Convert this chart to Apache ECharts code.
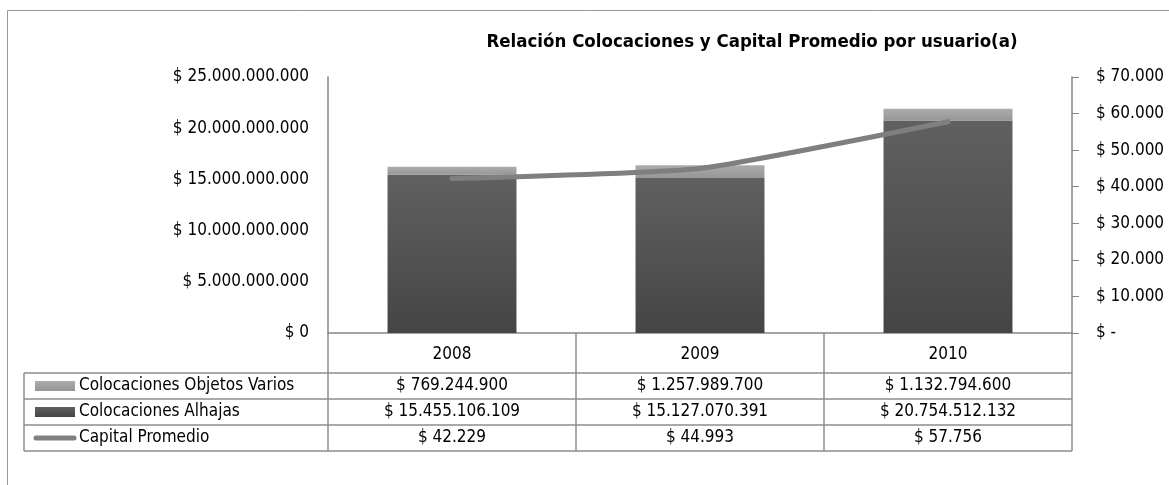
<!DOCTYPE html>
<html><head><meta charset="utf-8">
<script src="https://cdn.jsdelivr.net/npm/echarts@6/dist/echarts.min.js"></script>
<style>html,body{margin:0;padding:0;background:#fff}#c{width:1169px;height:485px}</style>
</head><body><div id="c"></div>
<script>
const years = ['2008', '2009', '2010'];
const objetosVarios = [769244900, 1257989700, 1132794600];
const alhajas = [15455106109, 15127070391, 20754512132];
const capitalPromedio = [42229, 44993, 57756];
const seriesNames = ['Colocaciones Objetos Varios', 'Colocaciones Alhajas', 'Capital Promedio'];
const leftTicks = [0, 5000000000, 10000000000, 15000000000, 20000000000, 25000000000];
const rightTicks = [0, 10000, 20000, 30000, 40000, 50000, 60000, 70000];
const title = 'Relación Colocaciones y Capital Promedio por usuario(a)';

const FONT = '"Liberation Sans Narrow","DejaVu Sans Condensed","Liberation Sans",Arial,sans-serif';
const FS = 17;
const AX = '#868686';
function fmt(v){ return '$ ' + String(v).replace(/\B(?=(\d{3})+(?!\d))/g, '.'); }

const G = {left:328, right:1072, top:77, bottom:333};
const rowTops = [373, 399, 425, 451];
const tableLeft = 24;

const chart = echarts.init(document.getElementById('c'), null, {renderer:'canvas'});

const darkGrad = new echarts.graphic.LinearGradient(0,0,0,1,[{offset:0,color:'#606060'},{offset:1,color:'#454545'}]);
const lightGrad = new echarts.graphic.LinearGradient(0,0,0,1,[{offset:0,color:'#acacac'},{offset:1,color:'#969696'}]);

function buildGraphics(){
  const g = [];
  g.push({type:'rect', silent:true, shape:{x:7.5,y:10.5,width:1300,height:600}, style:{fill:null, stroke:'#9a9a9a', lineWidth:1}});
  const colW = (G.right-G.left)/years.length;
  const ln = (x1,y1,x2,y2,c)=>g.push({type:'line', silent:true, shape:{x1,y1,x2,y2}, style:{stroke:c||'#8c8c8c', lineWidth:1.5}});
  for(let i=0;i<=years.length;i++){ const x=G.left+i*colW; ln(x,G.bottom,x,rowTops[rowTops.length-1]); }
  ln(tableLeft, rowTops[0], tableLeft, rowTops[rowTops.length-1]);
  rowTops.forEach(y=>ln(tableLeft,y,G.right,y));
  const rows = [objetosVarios, alhajas, capitalPromedio];
  rows.forEach((arr,r)=>{
    const cy = (rowTops[r]+rowTops[r+1])/2;
    if(r<2){
      g.push({type:'rect', silent:true, shape:{x:35,y:cy-5,width:40,height:10}, style:{fill: r===0?lightGrad:darkGrad}});
    } else {
      g.push({type:'line', silent:true, shape:{x1:36,y1:cy,x2:74,y2:cy}, style:{stroke:'#808080', lineWidth:5, lineCap:'round'}});
    }
    g.push({type:'text', silent:true, x:79, y:cy, style:{text:seriesNames[r], font:FS+'px '+FONT, fill:'#000', textVerticalAlign:'middle', verticalAlign:'middle'}});
    arr.forEach((v,i)=>{
      g.push({type:'text', silent:true, x:G.left+(i+0.5)*colW, y:cy, style:{text:fmt(v), font:FS+'px '+FONT, fill:'#000', align:'center', textAlign:'center', verticalAlign:'middle', textVerticalAlign:'middle'}});
    });
  });
  return g;
}

chart.setOption({
  animation:false,
  backgroundColor:'#fff',
  textStyle:{fontFamily:FONT},
  title:{text:title, left:747, top:28, textAlign:'center', textStyle:{fontFamily:FONT, fontSize:18.5, fontWeight:'bold', color:'#000'}},
  grid:{left:G.left, right:1169-G.right, top:G.top, bottom:485-G.bottom},
  xAxis:{type:'category', data:years, axisLine:{lineStyle:{color:AX, width:1.5}}, axisTick:{show:false},
    axisLabel:{color:'#000', fontSize:FS, fontFamily:FONT, margin:13}},
  yAxis:[
    {type:'value', min:0, max:25000000000, interval:5000000000, position:'left',
      axisLine:{show:true, lineStyle:{color:AX, width:1.5}}, axisTick:{show:false}, splitLine:{show:false},
      axisLabel:{color:'#000', fontSize:FS, fontFamily:FONT, margin:19, formatter:v=>fmt(v)}},
    {type:'value', min:0, max:70000, interval:10000, position:'right',
      axisLine:{show:true, lineStyle:{color:AX, width:1.5}}, axisTick:{show:true, length:7, lineStyle:{color:AX}}, splitLine:{show:false},
      axisLabel:{color:'#000', fontSize:FS, fontFamily:FONT, margin:24, formatter:v=> v===0 ? '$ -' : fmt(v)}}
  ],
  series:[
    {name:seriesNames[1], type:'bar', stack:'c', data:alhajas, barCategoryGap:'48%', itemStyle:{color:darkGrad}},
    {name:seriesNames[0], type:'bar', stack:'c', data:objetosVarios, itemStyle:{color:lightGrad}},
    {name:seriesNames[2], type:'line', yAxisIndex:1, data:capitalPromedio, symbol:'none', smooth:0.15,
      lineStyle:{color:'#7f7f7f', width:5, cap:'round', join:'round'}, z:5}
  ],
  graphic: buildGraphics()
});
</script></body></html>
